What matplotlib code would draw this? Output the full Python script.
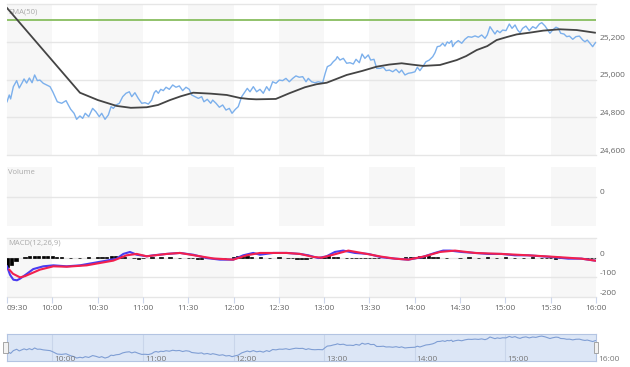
import numpy as np
import matplotlib.pyplot as plt
from matplotlib.transforms import blended_transform_factory
from matplotlib.patches import Rectangle

plt.rcParams['font.family'] = ['Open Sans', 'DejaVu Sans']

# --- data (time = minutes after 09:30) ---
price_t = [0, 1.5, 2.4, 4.2, 6.4, 8.1, 9.9, 11.3, 13.0, 14.8, 16.6, 18.3, 20.1, 21.8, 24.0, 26.3,
           28.5, 30.3, 31.8, 33.3, 36.2, 39.1, 40.6, 42.2, 44.4, 46.1, 48.3, 50.1, 51.8, 54.1, 56.7,
           58.9, 61.1, 62.7, 64.9, 67.1, 68.9, 70.4, 72.2, 74.4, 76.6, 78.8, 81.0, 82.6, 84.7, 86.9,
           89.2, 91.4, 93.6, 95.8, 97.5, 98.7, 100.2, 101.8, 103.5, 105.3, 107.5, 109.7, 111.9, 114.1,
           116.3, 118.5, 120.7, 122.3, 124.5, 126.7, 128.9, 130.4, 132.6, 134.9, 136.2, 138.4, 140.6,
           142.8, 145.0, 147.2, 149.0, 151.2, 153.1, 155.4, 157.6, 159.1, 160.9, 163.1, 165.3, 167.5,
           169.7, 171.9, 173.7, 175.9, 178.1, 180.3, 182.5, 184.7, 186.9, 189.2, 191.3, 193.5, 195.8,
           198.0, 199.5, 201.7, 203.9, 206.1, 209.0, 210.7, 212.1, 214.3, 216.0, 217.8, 218.7, 220.5,
           222.7, 224.9, 227.1, 229.3, 231.1, 233.3, 235.1, 237.0, 239.2, 240.8, 243.0, 244.8, 247.0,
           249.2, 251.0, 253.2, 255.4, 257.6, 259.7, 261.3, 263.5, 265.7, 268.0, 270.1, 271.7, 273.4,
           275.6, 277.4, 279.6, 281.9, 283.4, 284.9, 286.7, 288.5, 290.0, 291.5, 292.8, 294.4, 295.1,
           296.6, 298.8, 301.1, 303.2, 305.4, 307.7, 309.9, 312.1, 314.3, 316.5, 318.0, 319.8, 321.6,
           323.1, 324.6, 326.4, 328.2, 330.4, 332.6, 334.4, 336.4, 338.1, 339.7, 341.4, 343.6, 345.8,
           348.1, 350.2, 352.5, 354.1, 356.3, 357.7, 359.5, 361.3, 363.5, 365.1, 366.6, 368.8, 370.6,
           372.4, 374.6, 376.7, 379.0, 381.2, 382.7, 384.2, 386.0, 387.8, 389.3, 390]
price_v = [24882, 24918, 24897, 24962, 24994, 24955, 24981, 25003, 24981, 25008, 24983, 25024, 24994,
           24997, 24980, 24971, 24962, 24935, 24909, 24882, 24874, 24888, 24865, 24842, 24821, 24789,
           24807, 24794, 24821, 24803, 24847, 24829, 24803, 24821, 24789, 24812, 24856, 24847, 24865,
           24874, 24909, 24927, 24935, 24909, 24930, 24900, 24874, 24877, 24870, 24891, 24930, 24941,
           24927, 24948, 24941, 24959, 24948, 24971, 24959, 24966, 24941, 24959, 24948, 24918, 24909,
           24900, 24909, 24882, 24895, 24874, 24891, 24874, 24853, 24865, 24838, 24847, 24821, 24842,
           24856, 24909, 24935, 24953, 24935, 24962, 24935, 24948, 24927, 24962, 24941, 24988, 24980,
           24997, 24994, 25006, 24988, 25006, 25019, 25012, 25015, 24988, 25006, 24988, 24983, 24988,
           24983, 25033, 25068, 25077, 25094, 25107, 25121, 25103, 25112, 25086, 25089, 25082, 25107,
           25089, 25135, 25112, 25130, 25103, 25107, 25059, 25059, 25065, 25047, 25050, 25041, 25054,
           25036, 25050, 25024, 25033, 25036, 25041, 25065, 25047, 25072, 25094, 25103, 25121, 25142,
           25174, 25177, 25192, 25177, 25199, 25192, 25206, 25174, 25192, 25206, 25192, 25213, 25227,
           25224, 25231, 25224, 25236, 25218, 25236, 25280, 25259, 25241, 25259, 25248, 25262, 25259,
           25294, 25271, 25289, 25262, 25248, 25271, 25283, 25259, 25280, 25271, 25294, 25301, 25283,
           25266, 25245, 25262, 25277, 25271, 25245, 25241, 25227, 25230, 25213, 25227, 25230, 25209,
           25200, 25209, 25192, 25174, 25192, 25197]

sma_t = [0, 48.3, 60.2, 72.6, 82, 92.5, 100, 107.9, 115, 123.3, 135, 145.5, 154.3, 160, 165, 178,
         186.9, 197.3, 205, 211.7, 224.9, 235, 244.8, 253, 261.3, 268, 275.6, 286.7, 297.8, 304,
         311.0, 318, 324.2, 331, 337.5, 346, 355.1, 366.1, 377.2, 389.3]
sma_v = [25379, 24930, 24891, 24860, 24850, 24853, 24865, 24891, 24911, 24930, 24925, 24918, 24902,
         24897, 24895, 24897, 24927, 24959, 24975, 24983, 25024, 25045, 25068, 25079, 25086, 25079,
         25072, 25077, 25103, 25124, 25156, 25177, 25209, 25225, 25239, 25248, 25259, 25266, 25262,
         25248]
prev_close = 25315

macd_t = [0, 2, 4.2, 6.6, 8.6, 13, 17.4, 24, 30.7, 39.5, 48.3, 57.1, 66, 72.6, 77, 81.4, 85.9, 92.5,
          96.9, 105.7, 114.5, 123.3, 132.2, 141, 149.8, 156.4, 163, 167.5, 176.3, 185.2, 194, 199.5,
          206.1, 211.6, 217.1, 222.6, 230.4, 239.2, 248, 256.9, 265.7, 274.5, 283.3, 288.8, 293.3,
          301, 309.8, 318.6, 327.5, 336.3, 345.1, 354, 362.8, 371.6, 380.4, 389.3]
macd_v = [-44, -87, -112, -115, -107, -83, -58, -44, -39, -44, -39, -27, -15, -5, 19, 29, 15, 7, 12,
          19, 24, 15, -2, -10, -10, 12, 24, 15, 24, 24, 19, 12, -2, 7, 29, 36, 24, 19, 2, -5, -10, 2,
          24, 36, 36, 29, 24, 19, 19, 12, 12, 7, 2, -5, -5, -15]
signal_t = [1.5, 4, 8.6, 11.9, 15.2, 21.8, 30.7, 39.5, 52.8, 61.6, 70.4, 79.2, 85.9, 92.5, 105.7,
            114.5, 127.8, 136.6, 149.8, 158.7, 167.5, 185.2, 194, 202.6, 208.3, 216, 226, 234.8, 248,
            256.9, 265.7, 276.7, 286.7, 296.6, 309.8, 327.5, 345.1, 362.8, 380.4, 389.3]
signal_v = [-61, -82, -100, -94, -83, -61, -44, -46, -39, -27, -15, 12, 19, 7, 19, 24, 7, -4, -10,
            12, 24, 24, 19, 4, 0, 15, 36, 24, 5, -5, -10, 7, 29, 36, 24, 19, 12, 4, -5, -15]
# histogram, one bar every 3 minutes
hist_v = [-50, -38, -18, 0, 4, 7, 9, 10, 10, 8, 6, 3, 2, 0, -2, 0, -2, 0, 2, 0, 3, 5, 4, 7, 8, 6, 3,
          0, -4, -6, -3, 0, 2, 0, 2, 0, 2, 0, -2, 0, -3, -4, -5, -6, -4, -3, -5, -3, -2, 0, 3, 8, 10,
          7, 3, 0, 2, 0, -2, 0, 2, 0, -2, -3, -5, -6, -5, -3, 0, 2, 5, 7, 5, 3, 0, -2, -3, -4, -3, -4,
          -2, -3, -2, 0, -2, -3, -2, 0, 2, 3, 5, 6, 7, 6, 5, 3, 0, -2, 0, 0, -2, 0, 2, 0, -2, 0, 2, 0,
          -2, 0, 2, 0, -2, 0, -2, 0, 2, 0, -3, -4, -3, -5, -3, -2, 0, -3, -4, -2, -3, -4, -2]

time_ticks = [0, 30, 60, 90, 120, 150, 180, 210, 240, 270, 300, 330, 360, 390]
time_labels = ['09:30', '10:00', '10:30', '11:00', '11:30', '12:00', '12:30', '13:00', '13:30',
               '14:00', '14:30', '15:00', '15:30', '16:00']
nav_ticks = [30, 90, 150, 210, 270, 330, 390]
nav_labels = ['10:00', '11:00', '12:00', '13:00', '14:00', '15:00', '16:00']
band_starts = [0, 60, 120, 180, 240, 300, 360]
price_ticks = [24600, 24800, 25000, 25200, 25400]
price_labels = ['24,600', '24,800', '25,000', '25,200', '']
macd_ticks = [100, 0, -100, -200]
macd_labels = ['', '0', '-100', '-200']

W, H = 630, 367
GRID = '#e6e6e6'
BAND = '#f7f7f7'
LABEL = '#666666'
TITLE = '#aaaaaa'

fig = plt.figure(figsize=(W / 100, H / 100), dpi=100)


def panel(top, bottom):
    ax = fig.add_axes([7 / W, 1 - bottom / H, 589 / W, (bottom - top) / H])
    ax.set_xlim(0, 390)
    for s in ax.spines.values():
        s.set_visible(False)
    ax.set_xticks([])
    ax.set_yticks([])
    for b in band_starts:
        ax.axvspan(b, b + 30, color=BAND, lw=0, zorder=0)
    return ax


def right_labels(ax, ticks, labels):
    tr = blended_transform_factory(ax.transAxes, ax.transData)
    for v, lab in zip(ticks, labels):
        ax.axhline(v, color=GRID, lw=1, zorder=1, clip_on=False)
        if lab:
            ax.text(1.0068, v, lab, transform=tr, ha='left', va='bottom',
                    fontsize=6, color=LABEL)


# price pane
ax1 = panel(4, 155)
ax1.set_ylim(24600, 25400)
right_labels(ax1, price_ticks, price_labels)
ax1.axhline(prev_close, color='#90c26a', lw=1.4, zorder=2)
ax1.plot(price_t, price_v, color='#7cb0ec', lw=1.0, zorder=3)
ax1.plot(sma_t, sma_v, color='#444444', lw=1.3, zorder=4, solid_joinstyle='round')
ax1.text(0.002, 0.97, 'SMA(50)', transform=ax1.transAxes, fontsize=5.5, color=TITLE, va='top')

# volume pane
ax2 = panel(167, 226)
ax2.set_ylim(-1, 1)
right_labels(ax2, [0], ['0'])
ax2.text(0.002, 0.97, 'Volume', transform=ax2.transAxes, fontsize=5.5, color=TITLE, va='top')

# macd pane
ax3 = panel(238, 297)
ax3.set_ylim(-200, 100)
right_labels(ax3, macd_ticks, macd_labels)
hist_t = np.arange(len(hist_v)) * 3
for t, v in zip(hist_t, hist_v):
    if v != 0:
        ax3.bar(t, v, width=2.2, color='black', edgecolor='black', lw=0.5, zorder=2)
ax3.plot(macd_t, macd_v, color='#4a3cf0', lw=1.5, zorder=3)
ax3.plot(signal_t, signal_v, color='#f2204e', lw=1.5, zorder=4)
ax3.text(0.002, 0.97, 'MACD(12,26,9)', transform=ax3.transAxes, fontsize=5.5, color=TITLE, va='top')
ax3.set_xticks(time_ticks)
ax3.set_xticklabels(time_labels)
ax3.tick_params(axis='x', length=4, width=0.8, color='#ccd6eb', pad=2, labelsize=6, labelcolor=LABEL)
ax3.get_xticklabels()[0].set_ha('left')

# navigator
axn = fig.add_axes([7 / W, 1 - 361 / H, 589 / W, 27 / H])
axn.set_xlim(0, 390)
axn.set_ylim(24720, 25350)
axn.set_xticks([])
axn.set_yticks([])
axn.set_facecolor('#dce6f6')
for s in axn.spines.values():
    s.set_color('#b3c4e2')
    s.set_linewidth(0.8)
for t, lab in zip(nav_ticks, nav_labels):
    if t < 390:
        axn.axvline(t, color='#c9d5ea', lw=0.8, zorder=1)
    axn.text(t + 1.3, 24760, lab, fontsize=6, color='#777777', ha='left', va='center',
             clip_on=False)
axn.plot(price_t, price_v, color='#7f9ed4', lw=0.8, zorder=2)
for x0 in (-0.0063, 0.9966):
    axn.add_patch(Rectangle((x0, 0.31), 0.0073, 0.41, transform=axn.transAxes,
                            facecolor='#f2f2f2', edgecolor='#999999', lw=0.6,
                            clip_on=False, zorder=5))

fig.savefig('out.png', dpi=100)
